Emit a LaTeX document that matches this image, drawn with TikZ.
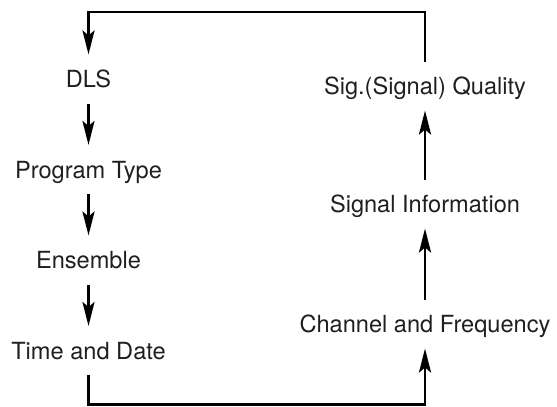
\documentclass[tikz,border=0pt]{standalone}
\usepackage{fontspec}
\setmainfont{TeX Gyre Heros}
\usetikzlibrary{arrows.meta}
\tikzset{
	itemA/.style={
		inner sep=0pt, outer sep=8pt, text height=8.5pt, text depth=0pt,
		font={\fontsize{11.8}{14}\selectfont}, text=black!88
	},
	flowA/.style={line width=1.45pt, -{Stealth[length=12pt,width=6pt,inset=2.5pt]}},
}
\def\colL{88.5}
\def\colR{425}

\begin{document}
\begin{tikzpicture}[
x=0.5pt, y=-0.5pt, every node/.style={itemA}
]
\useasboundingbox (0,0) rectangle (557,407);
\node (dls)  at (\colL,79)    {DLS};
\node (prog) at (\colL,169.5) {Program Type};
\node (ens)  at (\colL,260)   {Ensemble};
\node (time) at (\colL,350.5) {Time and Date};
\node (sq)   at (\colR,86)    {Sig.(Signal) Quality};
\node (si)   at (\colR,204)   {Signal Information};
\node (cf)   at (\colR,324)   {Channel and Frequency};
\coordinate (tl) at (\colL,12); \coordinate (bl) at (\colL,404.5);
\path  (dls) edge [flowA] (prog) ;
\path  (prog) edge [flowA] (ens) ;
\path  (ens) edge [flowA] (time) ;
\path  (cf) edge [flowA] (si) ;
\path  (si) edge [flowA] (sq) ;
\draw [flowA] (time) -- (bl) -| (cf);
\draw [flowA] (sq) |- (tl) -- (dls);
\end{tikzpicture}
\end{document}
